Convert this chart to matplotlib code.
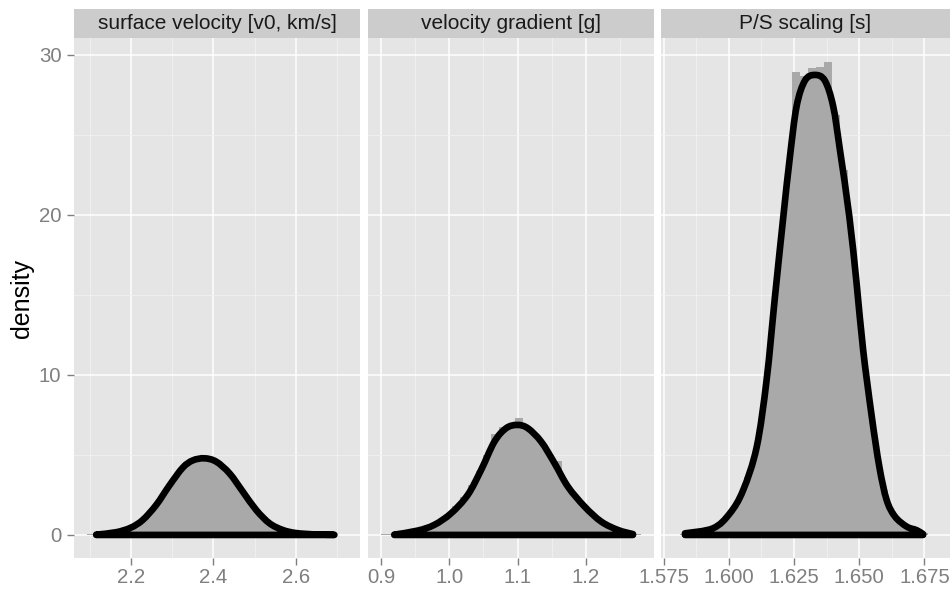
import numpy as np
import matplotlib
matplotlib.use("Agg")
import matplotlib.pyplot as plt
from matplotlib.path import Path
from matplotlib.patches import PathPatch

plt.rcParams['font.family'] = ['Liberation Sans', 'DejaVu Sans']

# strip titles
titles = ["surface velocity [v0, km/s]", "velocity gradient [g]", "P/S scaling [s]"]

# histogram bins (first edge, bin width) and bar heights for each parameter
v0_hist_start = 2.0933
v0_hist_width = 0.0191
v0_hist = [0.03, 0.05, 0.1, 0.15, 0.25, 0.4, 0.7, 1.0, 1.6, 2.2, 3.0, 3.6, 4.2,
           4.6, 4.9, 4.7, 4.6, 4.1, 3.6, 2.9, 2.2, 1.6, 1.1, 0.7, 0.4, 0.25,
           0.15, 0.08, 0.05, 0.04, 0.03, 0.02, 0.02]

g_hist_start = 0.9004
g_hist_width = 0.011506
g_hist = [0.03, 0.05, 0.12, 0.22, 0.3, 0.5, 0.65, 0.95, 1.3, 1.8, 2.4, 3.1, 4.0,
          5.0, 6.31, 6.77, 6.77, 7.3, 6.8, 6.2, 5.7, 5.0, 4.6, 3.0, 2.3, 1.7,
          1.2, 0.85, 0.55, 0.35, 0.22, 0.1, 0.03]

s_hist_start = 1.57803
s_hist_width = 0.00307
s_hist = [0.0, 0.05, 0.1, 0.2, 0.3, 0.5, 0.8, 1.5, 2.2, 3.6, 5.2, 7.8, 12.0,
          16.5, 21.5, 28.96, 28.7, 29.2, 29.27, 29.58, 26.25, 22.8, 17.0, 12.5,
          8.5, 5.0, 2.8, 1.5, 0.9, 0.5, 0.3, 0.1, 0.0]

# kernel density estimates
v0_dens_x = [2.1156, 2.164, 2.2, 2.2286, 2.261, 2.2933, 2.3256, 2.35, 2.378,
             2.4066, 2.4388, 2.471, 2.5035, 2.5357, 2.568, 2.6, 2.649, 2.693]
v0_dens_y = [0.02, 0.17, 0.46, 0.94, 1.87, 3.1, 4.21, 4.66, 4.79,
             4.58, 3.85, 2.71, 1.56, 0.73, 0.31, 0.12, 0.03, 0.01]

g_dens_x = [0.9194, 0.9535, 0.978, 1.0025, 1.0269, 1.0465, 1.066, 1.0831, 1.0993,
            1.1148, 1.1344, 1.154, 1.1735, 1.198, 1.2224, 1.2468, 1.2688]
g_dens_y = [0.02, 0.27, 0.63, 1.35, 2.5, 4.06, 5.83, 6.67, 6.875,
            6.67, 5.83, 4.48, 3.02, 1.77, 0.83, 0.31, 0.05]

s_dens_x = [1.5832, 1.594, 1.6004, 1.6055, 1.6107, 1.6145, 1.6177, 1.6209, 1.6234,
            1.626, 1.6292, 1.633, 1.6368, 1.64, 1.6426, 1.6462, 1.649, 1.6515,
            1.6548, 1.6577, 1.6605, 1.6637, 1.6682, 1.672, 1.6745]
s_dens_y = [0.1, 0.42, 1.35, 2.8, 5.5, 9.7, 14.9, 19.9, 23.6,
            26.8, 28.4, 28.75, 28.4, 26.8, 24.06, 19.9, 15.7, 11.56,
            7.4, 4.27, 2.19, 1.15, 0.52, 0.3, 0.05]

# axis breaks per panel
x_major = [[2.2, 2.4, 2.6], [0.9, 1.0, 1.1, 1.2], [1.575, 1.600, 1.625, 1.650, 1.675]]
x_labels = [["2.2", "2.4", "2.6"], ["0.9", "1.0", "1.1", "1.2"],
            ["1.575", "1.600", "1.625", "1.650", "1.675"]]
x_minor = [[2.1, 2.3, 2.5, 2.7], [0.95, 1.05, 1.15, 1.25], [1.5875, 1.6125, 1.6375, 1.6625]]
x_limits = [(2.0618, 2.7552), (0.8814, 1.2991), (1.5740, 1.6848)]
y_major = [0, 10, 20, 30]
y_minor = [5, 15, 25]

hists = [(v0_hist_start, v0_hist_width, v0_hist),
         (g_hist_start, g_hist_width, g_hist),
         (s_hist_start, s_hist_width, s_hist)]
dens = [(v0_dens_x, v0_dens_y), (g_dens_x, g_dens_y), (s_dens_x, s_dens_y)]


def density_path(xs, ys):
    # smooth (catmull-rom) outline through the density points, closed along y=0
    p = np.column_stack([xs, ys])
    n = len(p)
    verts = [p[0]]
    codes = [Path.MOVETO]
    for k in range(n - 1):
        p0 = p[max(k - 1, 0)]
        p1 = p[k]
        p2 = p[k + 1]
        p3 = p[min(k + 2, n - 1)]
        verts += [p1 + (p2 - p0) / 6, p2 - (p3 - p1) / 6, p2]
        codes += [Path.CURVE4] * 3
    verts += [(xs[-1], 0), (xs[0], 0), (xs[0], 0)]
    codes += [Path.LINETO, Path.LINETO, Path.CLOSEPOLY]
    return Path(verts, codes)


W, H = 950, 596
fig = plt.figure(figsize=(W / 100, H / 100), dpi=100)

panel_left = [74, 368.3, 661]
panel_width = [286, 285.4, 289]
panel_top, panel_bot = 38.3, 558.3
strip_h = 29.3

bar_col = '#A9A9A9'
tick_col = '#7F7F7F'

for i in range(3):
    ax = fig.add_axes([panel_left[i] / W, (H - panel_bot) / H,
                       panel_width[i] / W, (panel_bot - panel_top) / H])
    ax.set_facecolor('#E5E5E5')
    for s in ax.spines.values():
        s.set_visible(False)

    # grid
    ax.set_xticks(x_major[i])
    ax.set_xticklabels(x_labels[i])
    ax.set_xticks(x_minor[i], minor=True)
    ax.set_yticks(y_major)
    ax.set_yticks(y_minor, minor=True)
    ax.grid(which='major', color='white', linewidth=1.1)
    ax.grid(which='minor', color='#F2F2F2', linewidth=0.6)
    ax.set_axisbelow(True)

    # histogram
    start, bw, h = hists[i]
    edges = start + bw * np.arange(len(h))
    ax.bar(edges, h, width=bw, align='edge', color=bar_col, linewidth=0, zorder=2)

    # density outline with filled area
    dx, dy = dens[i]
    patch = PathPatch(density_path(dx, dy), facecolor=bar_col, edgecolor='black',
                      linewidth=4.8, joinstyle='round', capstyle='round', zorder=3)
    ax.add_patch(patch)

    ax.set_xlim(*x_limits[i])
    ax.set_ylim(-1.46, 31.04)

    ax.tick_params(axis='x', which='major', length=5, width=1, color=tick_col,
                   labelcolor=tick_col, labelsize=14.7, pad=2)
    ax.tick_params(which='minor', length=0)
    if i == 0:
        ax.tick_params(axis='y', which='major', length=5, width=1, color=tick_col,
                       labelcolor=tick_col, labelsize=14.7, pad=4)
    else:
        ax.tick_params(axis='y', which='major', length=0, labelleft=False)

    # facet strip
    sx = fig.add_axes([panel_left[i] / W, (H - panel_top) / H,
                       panel_width[i] / W, strip_h / H])
    sx.set_facecolor('#CCCCCC')
    sx.set_xticks([])
    sx.set_yticks([])
    for s in sx.spines.values():
        s.set_visible(False)
    sx.text(0.5, 0.5, titles[i], ha='center', va='center', fontsize=15,
            color='#1A1A1A', transform=sx.transAxes)

fig.text(21.7 / W, (H - 298) / H, "density", rotation=90, ha='center',
         va='center', fontsize=18)

fig.savefig("out.png", dpi=100, facecolor='white')
